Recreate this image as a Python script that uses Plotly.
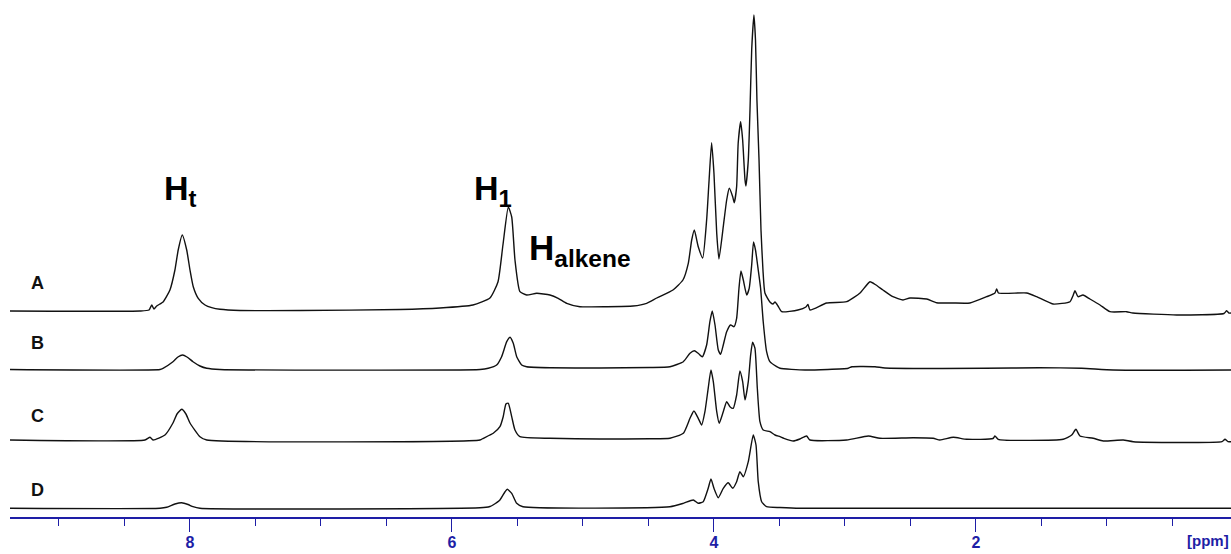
import plotly.graph_objects as go

# ---- data (chemical shift in ppm, intensity in arbitrary units) ----
ppm_A = [9.374, 8.382, 8.313, 8.292, 8.275, 8.254, 8.204, 8.153, 8.115, 8.090, 8.059, 8.025, 8.000, 7.975, 7.937,
         7.885, 7.834, 7.771, 7.618, 7.160, 6.397, 6.092, 5.840, 5.710, 5.649, 5.611, 5.570, 5.544, 5.519, 5.481,
         5.430, 5.353, 5.252, 5.189, 5.124, 5.023, 4.819, 4.618, 4.514, 4.437, 4.313, 4.237, 4.196, 4.170, 4.150,
         4.120, 4.086, 4.056, 4.038, 4.018, 4.000, 3.979, 3.962, 3.929, 3.903, 3.883, 3.857, 3.845, 3.827, 3.815,
         3.796, 3.781, 3.763, 3.756, 3.738, 3.725, 3.712, 3.695, 3.683, 3.672, 3.656, 3.641, 3.626, 3.611, 3.573,
         3.550, 3.534, 3.511, 3.483, 3.359, 3.298, 3.282, 3.267, 3.140, 2.987, 2.885, 2.809, 2.763, 2.710, 2.634,
         2.557, 2.504, 2.376, 2.300, 2.176, 2.046, 1.918, 1.855, 1.842, 1.828, 1.613, 1.537, 1.412, 1.282, 1.260,
         1.244, 1.221, 1.183, 1.130, 1.053, 0.977, 0.850, 0.802, 0.468, 0.107, 0.086, 0.069, 0.053]
int_A = [0, 0, 1, 6, 2, 5, 9.3, 21, 41, 61, 76, 61, 41, 24.3, 12.7,
         6, 3.3, 1.7, 0.5, 0.5, 1.5, 3, 6, 13, 29, 66, 104, 94, 51, 19.3,
         16, 17.7, 16, 12.7, 7.7, 4.3, 4.3, 5, 7.7, 13, 21, 31, 47.7, 71, 81,
         64.3, 53, 91, 129.3, 168.3, 137.7, 77.7, 52, 84.3, 111, 122.7, 114.3, 108.3, 124.3, 168,
         189.3, 171, 131, 125, 151, 201, 261, 296, 271, 211, 151, 81, 41, 18, 9,
         7, 9, 5, -0.7, 1, 4, 6.5, 1, 8, 9.3, 18, 29.3, 26, 21, 14.3,
         11, 13, 12, 8.3, 8, 8, 14.3, 18, 22, 18, 18, 14.3, 7, 9.3, 15,
         20.3, 14.3, 16, 12, 6, -0.7, -0.7, -2, -4, -2.5, 0.3, -2, -2]

ppm_B = [9.374, 8.229, 8.206, 8.130, 8.092, 8.056, 8.023, 7.977, 7.924, 7.872, 7.771, 5.786, 5.723, 5.659, 5.621,
         5.582, 5.557, 5.532, 5.506, 5.468, 5.430, 5.252, 4.870, 4.489, 4.336, 4.234, 4.183, 4.150, 4.120, 4.089,
         4.056, 4.031, 4.013, 3.992, 3.967, 3.949, 3.929, 3.903, 3.873, 3.847, 3.827, 3.809, 3.794, 3.776, 3.750,
         3.731, 3.712, 3.698, 3.683, 3.662, 3.644, 3.624, 3.598, 3.573, 3.521, 3.496, 3.305, 2.975, 2.947, 2.771,
         2.695, 1.931, 1.517, 1.193, 0.952, 0.053]
int_B = [0, 0, 1.2, 7.8, 12.5, 14.5, 12.5, 7.8, 3.5, 1.2, 0, 0, 1.2, 4.5, 12.8,
         27.8, 32.2, 26.2, 12.8, 4.5, 2.8, 1.8, 1.5, 2, 2.8, 7.8, 16.2, 18.8, 16.2, 12.8,
         24.5, 47.8, 58.5, 44.5, 19.5, 15.2, 24.5, 37.8, 44.5, 42.8, 51.2, 81.2, 98.5, 89.5, 74.5,
         81.2, 104.5, 127.5, 119.5, 99.5, 81.2, 47.8, 17.8, 7.8, 2.8, 1.2, -0.5, 1.2, 2.8, 2.8,
         1.5, 1.2, 1.8, 1.2, -0.5, -0.5]

ppm_C = [9.374, 8.344, 8.305, 8.282, 8.191, 8.130, 8.099, 8.063, 8.031, 8.000, 7.924, 7.872, 5.786, 5.761, 5.685,
         5.634, 5.609, 5.588, 5.570, 5.544, 5.519, 5.481, 5.252, 4.870, 4.489, 4.336, 4.234, 4.183, 4.153, 4.120,
         4.094, 4.069, 4.044, 4.023, 4.005, 3.979, 3.960, 3.929, 3.903, 3.878, 3.853, 3.827, 3.802, 3.781, 3.763,
         3.738, 3.720, 3.705, 3.687, 3.669, 3.649, 3.624, 3.573, 3.534, 3.496, 3.466, 3.395, 3.344, 3.293, 3.267,
         2.987, 2.822, 2.733, 2.479, 2.326, 2.275, 2.173, 2.071, 1.870, 1.855, 1.830, 1.334, 1.269, 1.237, 1.206,
         1.105, 1.028, 0.876, 0.799, 0.122, 0.099, 0.076, 0.053]
int_C = [0, 0, 2.7, 0, 5, 17, 26, 30.7, 26, 17, 3.3, 0, 0, 1.7, 6.7,
         13.3, 23.3, 36, 36.7, 23.3, 10, 3.3, 1.7, 1, 1.2, 1.7, 6.7, 21.7, 29, 21.7,
         15, 28.3, 51.7, 70, 58.3, 28.3, 16.7, 28.3, 38.3, 33.3, 31.7, 45, 69, 58.3, 40,
         58.3, 85, 97.7, 91.7, 51.7, 18.3, 10, 8.3, 5, 3.3, 1.7, -1, 1, 4, 0,
         0, 4, 1.7, 2.3, 1.7, 0, 2.7, 0.7, 1.5, 4, 0.7, 0.7, 5, 10.7, 4,
         1.7, -1, 0, -1.7, -1.7, 0.7, -1.7, -1.7]

ppm_D = [9.374, 8.229, 8.178, 8.115, 8.063, 8.015, 7.977, 7.924, 5.786, 5.710, 5.687, 5.634, 5.595, 5.578, 5.544,
         5.506, 5.458, 4.336, 4.234, 4.158, 4.120, 4.082, 4.044, 4.023, 4.000, 3.967, 3.929, 3.891, 3.857, 3.827,
         3.802, 3.776, 3.738, 3.700, 3.679, 3.662, 3.636, 3.598, 3.496, 3.344, 0.053]
int_D = [0, 0, 1, 4.3, 5.6, 3.8, 1.6, 0, 0.5, 1.8, 3.3, 8.3, 16.6, 19, 15,
         5, 1.5, 1.6, 5, 8.3, 5, 6.6, 20, 29.3, 20, 10.6, 20, 25.6, 20, 26.6,
         36.6, 31.6, 46.6, 73.3, 63.3, 26.6, 6.6, 1.6, 0.8, 0, 0]

sample_labels = ["A", "B", "C", "D"]
major_ticks = [8, 6, 4, 2]
tick_text = ["8", "6", "4", "2"]

# ---- layout constants ----
offsets = [206, 147.5, 77, 8.7]
label_y = [234, 174, 101, 27]
BLUE = "#1e1ea6"
FONT = "Liberation Sans"

fig = go.Figure()
for px_, iy, off in zip([ppm_A, ppm_B, ppm_C, ppm_D], [int_A, int_B, int_C, int_D], offsets):
    fig.add_trace(go.Scatter(x=px_, y=[v + off for v in iy], mode="lines",
                             line=dict(color="#111111", width=1.4, shape="spline", smoothing=0.5),
                             hoverinfo="skip", showlegend=False))

for lab, ly in zip(sample_labels, label_y):
    fig.add_annotation(x=9.163, y=ly, xref="x", yref="y", text=f"<b>{lab}</b>", showarrow=False,
                       font=dict(family=FONT, size=18, color="#111111"), xanchor="center", yanchor="middle")

peak_font = dict(family=FONT, size=34, color="#000000")
fig.add_annotation(x=8.215, y=327, text="<b>H<sub>t</sub></b>", showarrow=False, font=peak_font,
                   xanchor="left", yanchor="middle")
fig.add_annotation(x=5.850, y=327, text="<b>H<sub>1</sub></b>", showarrow=False, font=peak_font,
                   xanchor="left", yanchor="middle")
fig.add_annotation(x=5.430, y=267, text="<b>H<sub>alkene</sub></b>", showarrow=False,
                   font=dict(family=FONT, size=35, color="#000000"), xanchor="left", yanchor="middle")

fig.add_annotation(x=1.0, y=-0.045, xref="paper", yref="paper", text="<b>[ppm]</b>", showarrow=False,
                   font=dict(family=FONT, size=15, color=BLUE), xanchor="right", yanchor="middle")

fig.update_layout(
    width=1231, height=554,
    margin=dict(l=10, r=0, t=0, b=37),
    paper_bgcolor="white", plot_bgcolor="white",
    xaxis=dict(range=[9.374, 0.053], tickvals=major_ticks, ticktext=tick_text,
               showgrid=False, zeroline=False, showline=True, linecolor=BLUE, linewidth=1.5,
               ticks="outside", ticklen=13, tickwidth=1.3, tickcolor=BLUE, ticklabelstandoff=-3,
               tickfont=dict(family=FONT, size=16, color=BLUE, weight="bold"),
               minor=dict(dtick=0.5, tick0=0, ticks="outside", ticklen=7, tickwidth=1.3, tickcolor=BLUE,
                          showgrid=False)),
    yaxis=dict(range=[0, 517], visible=False, fixedrange=True),
)

fig.write_html("out.html")
